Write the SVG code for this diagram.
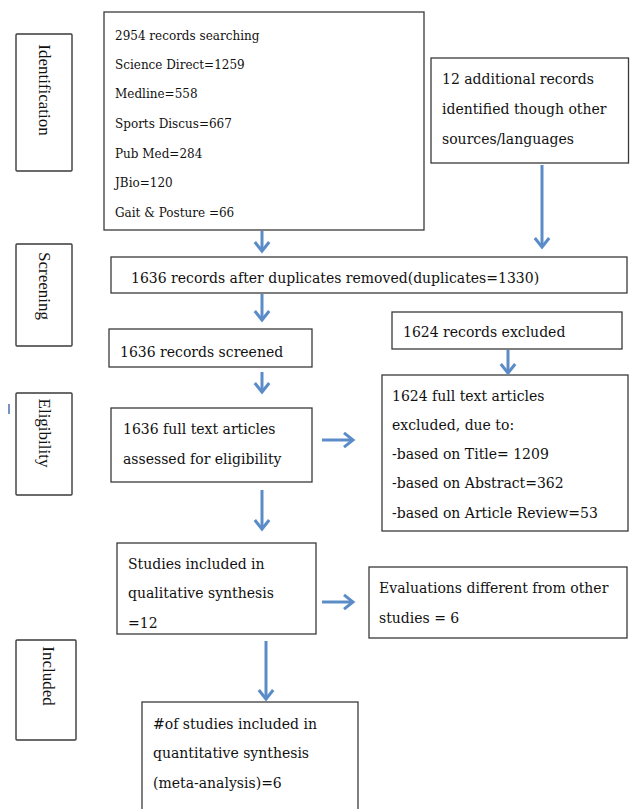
<svg xmlns="http://www.w3.org/2000/svg" width="630" height="809" viewBox="0 0 630 809">
<defs>
<style>
.box{fill:#fff;stroke:#3a3a3a;stroke-width:1.3}
.lbl{fill:#fff;stroke:#3a3a3a;stroke-width:1.4}
.t{font-family:"DejaVu Serif","Liberation Serif",serif;font-size:14px;fill:#111}
.s{font-family:"DejaVu Serif","Liberation Serif",serif;font-size:12px;fill:#111}
.v{font-family:"Liberation Serif","Times New Roman",serif;font-size:17px;fill:#111}
.a{stroke:#5b8cc8;stroke-width:3;fill:none;marker-end:url(#ah)}
</style>
<marker id="ah" markerWidth="6" markerHeight="6" viewBox="0 0 6 6" refX="4.5" refY="3" orient="auto" markerUnits="strokeWidth">
<path d="M1.5,0.6 L4.5,3 L1.5,5.4" fill="none" stroke="#5b8cc8" stroke-width="1" stroke-linejoin="miter"/>
</marker>
</defs>
<rect width="630" height="809" fill="#fff"/>

<g id="label-identification"><rect class="lbl" x="16" y="34" width="56" height="137" rx="1"/><text class="v" transform="translate(44,90) rotate(90)" text-anchor="middle" dominant-baseline="central">Identification</text></g>
<g id="label-screening"><rect class="lbl" x="16" y="244" width="56" height="102" rx="1"/><text class="v" transform="translate(44,286) rotate(90)" text-anchor="middle" dominant-baseline="central">Screening</text></g>
<g id="label-eligibility"><rect class="lbl" x="16" y="393" width="56" height="102" rx="1"/><text class="v" transform="translate(44,433) rotate(90)" text-anchor="middle" dominant-baseline="central">Eligibility</text></g>
<g id="label-included"><rect class="lbl" x="16" y="640" width="60" height="100" rx="1"/><text class="v" transform="translate(48,676) rotate(90)" text-anchor="middle" dominant-baseline="central">Included</text></g>
<line x1="9" y1="404" x2="9" y2="414" stroke="#4a6fb0" stroke-width="1.5"/>

<g id="records-search"><rect class="box" x="104" y="12" width="320" height="218"/>
<text class="s" x="115" y="40">2954 records searching</text>
<text class="s" x="115" y="69">Science Direct=1259</text>
<text class="s" x="115" y="98">Medline=558</text>
<text class="s" x="115" y="128">Sports Discus=667</text>
<text class="s" x="115" y="158">Pub Med=284</text>
<text class="s" x="115" y="187">JBio=120</text>
<text class="s" x="115" y="217">Gait &amp; Posture =66</text></g>

<g id="additional"><rect class="box" x="431" y="58" width="197.5" height="105"/>
<text class="t" x="442" y="84">12 additional records</text>
<text class="t" x="442" y="114">identified though other</text>
<text class="t" x="442" y="144">sources/languages</text></g>

<g id="duplicates"><rect class="box" x="111" y="257" width="516" height="36"/>
<text class="t" x="131" y="283">1636 records after duplicates removed(duplicates=1330)</text></g>

<g id="screened"><rect class="box" x="109" y="329" width="203" height="38"/>
<text class="t" x="120" y="357">1636 records screened</text></g>

<g id="excluded"><rect class="box" x="392" y="312" width="230" height="37"/>
<text class="t" x="403" y="337">1624 records excluded</text></g>

<g id="fulltext"><rect class="box" x="111" y="408" width="201" height="74"/>
<text class="t" x="123" y="434">1636 full text articles</text>
<text class="t" x="123" y="464">assessed for eligibility</text></g>

<g id="fulltext-excluded"><rect class="box" x="382" y="375" width="246" height="156"/>
<text class="t" x="392" y="401">1624 full text articles</text>
<text class="t" x="392" y="430">excluded, due to:</text>
<text class="t" x="392" y="459">-based on Title= 1209</text>
<text class="t" x="392" y="488">-based on Abstract=362</text>
<text class="t" x="392" y="518">-based on Article Review=53</text></g>

<g id="qualitative"><rect class="box" x="117" y="543" width="199" height="91"/>
<text class="t" x="128" y="569">Studies included in</text>
<text class="t" x="128" y="598">qualitative synthesis</text>
<text class="t" x="128" y="628">=12</text></g>

<g id="evaluations"><rect class="box" x="369" y="567" width="258" height="71"/>
<text class="t" x="379" y="593">Evaluations different from other</text>
<text class="t" x="379" y="623">studies = 6</text></g>

<g id="quantitative"><rect class="box" x="142" y="702" width="216" height="115"/>
<text class="t" x="153" y="729">#of studies included in</text>
<text class="t" x="153" y="758">quantitative synthesis</text>
<text class="t" x="153" y="788">(meta-analysis)=6</text></g>

<g id="connectors">
<line class="a" x1="262" y1="231" x2="262" y2="251"/>
<line class="a" x1="542" y1="165" x2="542" y2="247"/>
<line class="a" x1="262" y1="294" x2="262" y2="320"/>
<line class="a" x1="262" y1="372" x2="262" y2="392"/>
<line class="a" x1="508" y1="350" x2="508" y2="373"/>
<line class="a" x1="322" y1="440" x2="353" y2="440"/>
<line class="a" x1="262" y1="490" x2="262" y2="529"/>
<line class="a" x1="322" y1="602" x2="353" y2="602"/>
<line class="a" x1="266" y1="641" x2="266" y2="699"/>
</g>
</svg>
